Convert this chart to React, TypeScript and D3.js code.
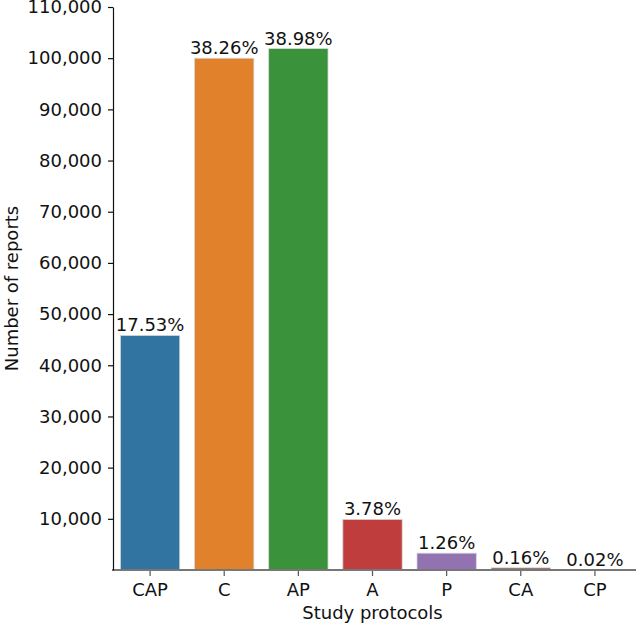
import { useEffect, useMemo, useRef } from 'react';
import * as d3 from 'd3';

const protocols = ['CAP', 'C', 'AP', 'A', 'P', 'CA', 'CP'];
const reports = [45820, 99990, 101870, 9880, 3290, 420, 50];
const shares = ['17.53%', '38.26%', '38.98%', '3.78%', '1.26%', '0.16%', '0.02%'];
const colours = ['#3274a1', '#e1812c', '#3a923a', '#c03d3e', '#9372b2', '#845b53', '#d684bd'];
const yTicks = d3.range(10000, 110001, 10000);

const width = 636;
const height = 626;
const margin = { top: 7, right: 4, bottom: 56, left: 113 };
const font = '"DejaVu Sans", sans-serif';
const fontSize = 18;

export default function App() {
    const yAxisEl = useRef<SVGGElement>(null);

    const x = useMemo(
        () =>
            d3
                .scaleBand<string>()
                .domain(protocols)
                .range([margin.left, 632])
                .paddingInner(0.2)
                .paddingOuter(0.1),
        []
    );
    const y = useMemo(
        () => d3.scaleLinear().domain([0, 110000]).range([height - margin.bottom, margin.top]),
        []
    );

    useEffect(() => {
        if (!yAxisEl.current) return;
        d3.select(yAxisEl.current)
            .call(
                d3
                    .axisLeft(y)
                    .tickValues(yTicks)
                    .tickSize(5)
                    .tickSizeOuter(0)
                    .tickPadding(6)
                    .tickFormat((d) => d3.format(',')(d as number))
            )
            .call((g) =>
                g.selectAll('text').attr('font-size', fontSize).attr('font-family', font).attr('fill', '#111')
            )
            .call((g) => g.select('.domain').attr('stroke', '#111').attr('stroke-width', 1.2))
            .call((g) => g.selectAll('.tick line').attr('stroke', '#111').attr('stroke-width', 1.2));
    }, [y]);

    const base = y(0);

    return (
        <svg
            width={width}
            height={height}
            viewBox={`0 0 ${width} ${height}`}
            style={{ position: 'absolute', left: 0, top: 0, background: '#fff' }}
        >
            {protocols.map((p, i) => (
                <g key={p}>
                    <rect
                        x={x(p)}
                        y={y(reports[i])}
                        width={x.bandwidth()}
                        height={base - y(reports[i])}
                        fill={colours[i]}
                        stroke="#d6d6d6"
                        strokeWidth={0.8}
                    />
                    <text
                        x={(x(p) || 0) + x.bandwidth() / 2}
                        y={y(reports[i]) - 4}
                        textAnchor="middle"
                        fontSize={fontSize}
                        fontFamily={font}
                        fill="#111"
                    >
                        {shares[i]}
                    </text>
                    <line
                        x1={(x(p) || 0) + x.bandwidth() / 2}
                        x2={(x(p) || 0) + x.bandwidth() / 2}
                        y1={base}
                        y2={base + 6}
                        stroke="#555"
                        strokeWidth={1.2}
                    />
                    <text
                        x={(x(p) || 0) + x.bandwidth() / 2}
                        y={596}
                        textAnchor="middle"
                        fontSize={fontSize}
                        fontFamily={font}
                        fill="#111"
                    >
                        {p}
                    </text>
                </g>
            ))}
            <line x1={margin.left - 1} x2={width} y1={base} y2={base} stroke="#777" strokeWidth={2} />
            <g ref={yAxisEl} transform={`translate(${margin.left}, 0)`} />
            <text
                transform={`translate(18, ${(margin.top + base) / 2}) rotate(-90)`}
                textAnchor="middle"
                fontSize={fontSize}
                fontFamily={font}
                fill="#111"
            >
                Number of reports
            </text>
            <text x={(margin.left + 632) / 2} y={619} textAnchor="middle" fontSize={fontSize} fontFamily={font} fill="#111">
                Study protocols
            </text>
        </svg>
    );
}
